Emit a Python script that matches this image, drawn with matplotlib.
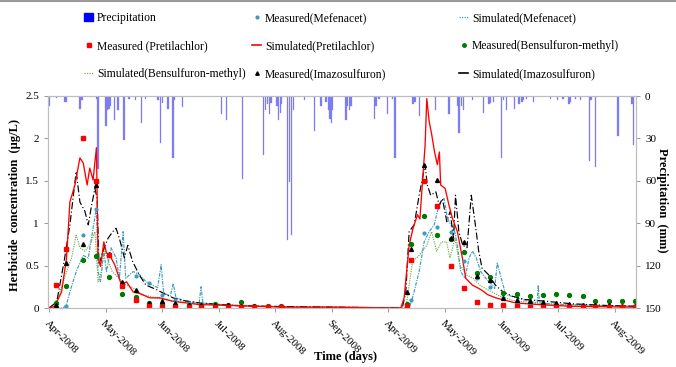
import matplotlib
matplotlib.use("Agg")
import matplotlib.pyplot as plt
from matplotlib.lines import Line2D
from matplotlib.patches import Patch
import numpy as np

plt.rcParams['font.family'] = ['Liberation Serif', 'DejaVu Serif']

# x axis = day index, Apr-2008 season then Apr-2009 season joined
month_pos = [0, 30.5, 61, 91.5, 122, 152.5, 183, 213.5, 244, 274.5, 305]
month_lab = ["Apr-2008", "May-2008", "Jun-2008", "Jul-2008", "Aug-2008", "Sep-2008",
             "Apr-2009", "May-2009", "Jun-2009", "Jul-2009", "Aug-2009"]

# precipitation (mm)
precip_day = [0.2, 4.1, 8.6, 9.5, 16.3, 17.1, 17.9, 25.7, 26.5, 30.7, 31.4, 32.4, 33.2,
              35.5, 37.3, 40.5, 43.2, 46.8, 49.9, 52.2, 58.8, 60.1, 61.2, 64.2, 66.9,
              67.8, 72.2, 93.2, 95.6, 103.7, 104.5, 115.7, 116.6, 118, 118.9, 119.8,
              123, 123.9, 124.8, 125.5, 128.7, 129.6, 130.6, 132, 137.7, 143.1, 146.7,
              149.4, 150.6, 151.5, 152.4, 152.9, 160.1, 161, 161.9, 162.8, 175.4, 176.3,
              178, 182.5, 185.2, 186.5, 196.3, 197.4, 199.6, 208.5, 215.7, 220.2, 221.1,
              222.5, 223.4, 228.2, 234.2, 237.2, 238.1, 239.5, 244, 244.9, 246.7, 251,
              253.4, 255.1, 256, 257.5, 261.4, 270.4, 274.3, 277.2, 280.3, 281.2, 283.9,
              286.6, 291.6, 292.3, 294.6, 306.8, 314.4, 315.2]
precip_mm = [7, 1.5, 4, 4, 9, 9, 3, 2, 52, 21, 10, 9, 7, 17, 10, 31, 2, 3, 19, 2, 3, 33,
             5, 9, 44, 3, 8, 13, 17, 1, 59, 42, 10, 6, 13, 5, 7, 17, 12, 6, 102, 61, 98,
             10, 3, 25, 7, 4, 10, 16, 19, 10, 17, 7, 10, 7, 16, 7, 2, 13, 2, 44, 6, 4,
             14, 10, 13, 7, 26, 7, 10, 3, 12, 6, 5, 4, 44, 3, 10, 9, 6, 4, 3, 2, 4, 2,
             3, 2, 6, 4, 2, 3, 46, 3, 50, 28, 6, 35]

# simulated concentrations (ug/L)
pre_day = [0, 3.2, 6.8, 9.5, 11.3, 14, 16.7, 18.5, 20.6, 22, 23.8, 25.6, 26.5, 27.8, 29.6,
           31, 32.8, 35.5, 39.1, 41.8, 45.4, 49, 54.3, 59.7, 66.9, 81.2, 99, 126, 153,
           189.7, 191.5, 194.2, 196.3, 198.7, 200, 201.4, 202.8, 203.7, 205, 206.4, 207.9,
           209.4, 210.5, 211.2, 213.6, 215.7, 217.5, 220.2, 222.9, 224.7, 228.3, 231.8,
           234, 236.3, 240.8, 244.4, 251.6, 264, 282, 316]
pre_sim = [0, 0.02, 0.19, 0.59, 1.25, 1.45, 1.77, 1.71, 1.45, 1.65, 1.51, 1.89, 0.59, 0.49,
           0.78, 0.65, 0.62, 0.51, 0.27, 0.31, 0.19, 0.17, 0.12, 0.12, 0.08, 0.04, 0.03,
           0.01, 0.01, 0.0, 0.12, 0.74, 0.94, 1.10, 1.05, 1.49, 1.92, 2.47, 2.20, 2.04,
           1.84, 1.69, 1.84, 1.45, 1.41, 1.21, 1.06, 0.90, 0.59, 0.35, 0.27, 0.23, 0.20,
           0.16, 0.12, 0.10, 0.06, 0.04, 0.02, 0.01]

ima_day = [0, 4.2, 8.2, 11.3, 14.7, 16.7, 19.4, 21.2, 23, 24.8, 26, 27, 29.1, 31.8, 34.4,
           36.2, 38, 40.7, 42.5, 45.1, 48.7, 52.3, 57.7, 63, 66.9, 72, 81, 99, 117, 153,
           190.5, 192.4, 194.2, 196.9, 199.6, 202.8, 204, 205.8, 208.6, 210.4, 212.1,
           214.5, 216.3, 218.1, 219.2, 221, 223.1, 225.4, 227.7, 229.9, 231.7, 233.5,
           237.1, 240.7, 244.2, 249.6, 256.8, 267.6, 281.9, 299.9, 316]
ima_sim = [0, 0.07, 0.55, 0.98, 1.61, 1.25, 1.14, 0.98, 1.21, 1.41, 1.29, 0.51, 0.67,
           0.82, 0.90, 0.94, 0.82, 0.59, 0.74, 0.55, 0.39, 0.27, 0.22, 0.16, 0.12, 0.09,
           0.06, 0.03, 0.02, 0.01, 0.0, 0.19, 0.90, 0.98, 1.33, 1.69, 1.45, 1.33, 1.37,
           1.21, 1.29, 1.02, 1.14, 0.82, 1.33, 0.90, 0.74, 0.71, 1.33, 0.98, 0.67, 0.47,
           0.39, 0.27, 0.20, 0.14, 0.10, 0.08, 0.05, 0.03, 0.02]

mef_day = [0, 7.7, 9.5, 11.3, 14.7, 18.5, 21.2, 23.8, 25.6, 26.5, 27.8, 29.6, 31, 33.5,
           36.2, 38, 40, 41.4, 45.4, 49, 52.3, 55.9, 58.6, 60.5, 61.8, 65.4, 67, 68.5,
           73.8, 81, 82, 83, 90, 108, 153, 194.2, 196, 199.6, 202.3, 205, 207.7, 209.4,
           211.2, 213, 214.8, 216.6, 218.4, 220.2, 222, 224.3, 226.5, 228.3, 230.4, 232.8,
           235.5, 239.1, 240.3, 241.7, 246.2, 255.2, 263.2, 263.8, 264.4, 276.8, 316]
mef_sim = [0, 0, 0.04, 0.19, 0.43, 0.62, 0.59, 0.94, 1.18, 0.43, 0.31, 0.67, 0.43, 0.71,
           0.59, 0.35, 0.90, 0.35, 0.43, 0.39, 0.31, 0.27, 0.24, 0.51, 0.18, 0.14, 0.29,
           0.12, 0.08, 0.06, 0.25, 0.06, 0.04, 0.02, 0.01, 0.0, 0.12, 0.43, 0.78, 0.90,
           0.98, 1.14, 1.25, 1.29, 1.06, 0.98, 0.94, 0.74, 0.43, 0.35, 0.59, 0.67, 0.59,
           0.43, 0.35, 0.27, 0.23, 0.53, 0.16, 0.10, 0.06, 0.27, 0.06, 0.04, 0.02]

ben_day = [0, 2.3, 5.9, 9.5, 12.2, 14.7, 16.7, 19.4, 22, 24.8, 26.5, 28.3, 29.6, 31.4,
           34.1, 37.7, 41.4, 45, 50.4, 57.5, 66.5, 81, 117, 153, 192.4, 194.2, 196, 199.6,
           203.7, 206.3, 209, 211.7, 214.4, 216.2, 218.9, 221.5, 225.1, 228.7, 232.3,
           237.7, 243.1, 250.2, 264.6, 316]
ben_sim = [0, 0, 0.19, 0.43, 0.59, 0.86, 0.71, 0.67, 0.74, 0.90, 0.31, 0.43, 0.71, 0.59,
           0.43, 0.35, 0.27, 0.24, 0.16, 0.12, 0.08, 0.05, 0.02, 0.01, 0.0, 0.27, 0.55,
           0.62, 0.74, 0.90, 0.67, 0.78, 0.78, 0.59, 0.82, 0.51, 0.39, 0.35, 0.27, 0.20,
           0.14, 0.09, 0.05, 0.02]

# measured concentrations (ug/L)
obs_day = [4, 9.3, 18.3, 25.4, 32.2, 39.4, 46.8, 53.7, 61, 68.2, 75.3, 82.1, 89.3, 96.4,
           103.7, 110.8, 118, 125.2, 192.9, 195.2, 202.3, 209.4, 216.6, 223.8, 230.6,
           237.8, 244.9, 252.1, 259.3, 266.3, 273.4, 280.6, 287.8, 294.6, 301.8, 308.9,
           315.7]
pre_obs = [0.27, 0.70, 2.0, 1.50, 0.62, 0.26, 0.09, 0.02, 0.01, 0.01, 0.01, 0.01, 0.01,
           0.01, 0.01, 0.01, 0.01, 0.01, 0.02, 0.57, 1.50, 1.20, 0.50, 0.23, 0.07, 0.04,
           0.03, 0.02, 0.01, 0.01, 0.01, 0.01, 0.01, 0.01, 0.01, 0.01, 0.01]
ben_obs = [0.06, 0.26, 0.57, 0.61, 0.36, 0.16, 0.13, 0.06, 0.05, 0.04, 0.03, 0.03, 0.05,
           0.03, 0.07, 0.02, 0.02, 0.02, 0.05, 0.75, 1.08, 0.86, 0.81, 0.66, 0.41, 0.37,
           0.18, 0.17, 0.14, 0.15, 0.17, 0.15, 0.14, 0.08, 0.08, 0.08, 0.08]
ima_obs = [0.04, 0.53, 0.75, 1.45, 0.64, 0.31, 0.21, 0.06, 0.08, 0.06, 0.04, 0.03, 0.03,
           0.03, 0.02, 0.02, 0.01, 0.01, 0.19, 0.69, 1.69, 1.51, 0.82, 0.78, 0.38, 0.33,
           0.12, 0.10, 0.08, 0.07, 0.06, 0.05, 0.04, 0.03, 0.03, 0.02, 0.02]
mef_obs = [0.0, 0.02, 0.86, 1.17, 0.63, 0.30, 0.38, 0.30, 0.15, 0.10, 0.06, 0.05, 0.04,
           0.03, 0.02, 0.02, 0.01, 0.01, 0.0, 0.10, 0.88, 0.96, 0.90, 0.55, 0.35, 0.25,
           0.12, 0.06, 0.05, 0.04, 0.04, 0.03, 0.03, 0.02, 0.02, 0.02, 0.02]

red = "#ff0000"
teal = "#3f9cbf"
lgreen = "#6fb04f"
dgreen = "#007a00"
black = "#000000"
pblue = "#7c7cf4"

fig = plt.figure(figsize=(6.76, 3.67), dpi=100)
ax = fig.add_axes([48/676, 1-308/367, (636-48)/676, (308-96)/367])
ax2 = ax.twinx()

ax2.bar(precip_day, precip_mm, width=0.7, color=pblue, edgecolor=pblue, linewidth=0.2)
ax2.set_ylim(150, 0)
ax2.set_yticks([0, 30, 60, 90, 120, 150])

ax.set_zorder(ax2.get_zorder() + 1)
ax.patch.set_visible(False)

ax.plot(mef_day, mef_sim, color=teal, lw=0.85, dashes=(3, 1, 1, 1))
ax.plot(ben_day, ben_sim, color=lgreen, lw=0.85, dashes=(1, 1))
ax.plot(ima_day, ima_sim, color=black, lw=0.85, dashes=(6, 2, 1, 2))
ax.plot(pre_day, pre_sim, color=red, lw=0.95)
ax.plot(obs_day, mef_obs, 'o', color=teal, ms=2)
ax.plot(obs_day, ben_obs, 'o', color=dgreen, ms=2.8)
ax.plot(obs_day, ima_obs, '^', color=black, ms=2.8)
ax.plot(obs_day, pre_obs, 's', color=red, ms=3)

ax.set_xlim(-0.5, 316.5)
ax.set_ylim(0, 2.5)
ax.set_yticks([0, 0.5, 1, 1.5, 2, 2.5])
ax.set_yticklabels(["0", "0.5", "1", "1.5", "2", "2.5"])
ax.set_xticks(month_pos)
ax.set_xticklabels(month_lab, rotation=-45, ha='left', va='top', rotation_mode='anchor')

for a in (ax, ax2):
    for s in a.spines.values():
        s.set_color("#bdbdbd")
        s.set_linewidth(0.8)
    a.tick_params(labelsize=8, length=3, color="#999999", width=0.7)
ax.tick_params(axis='x', pad=5)

fig.text(15/676, 1-205/367, "Herbicide  concentration  (\u03bcg/L)", fontsize=9,
         fontweight='bold', rotation=90, ha='center', va='center')
fig.text(662/676, 1-200/367, "Precipitation  (mm)", fontsize=9, fontweight='bold',
         rotation=-90, ha='center', va='center')
fig.text(345/676, 1-357/367, "Time (days)", fontsize=9, fontweight='bold',
         ha='center', va='center')

# legend, three columns like the spreadsheet original
h_prec = Patch(facecolor="#0000ff", edgecolor="#0000ff")
h_mef_o = Line2D([], [], ls='none', marker='o', color=teal, ms=2)
h_mef_s = Line2D([], [], color=teal, lw=0.9, dashes=(1, 1))
h_pre_o = Line2D([], [], ls='none', marker='s', color=red, ms=2.5)
h_pre_s = Line2D([], [], color=red, lw=1.2)
h_ben_o = Line2D([], [], ls='none', marker='o', color=dgreen, ms=2.5)
h_ben_s = Line2D([], [], color=lgreen, lw=0.9, dashes=(1, 1))
h_ima_o = Line2D([], [], ls='none', marker='^', color=black, ms=2.5)
h_ima_s = Line2D([], [], color=black, lw=1.2)

cols = [
    ([h_prec, h_pre_o, h_ben_s],
     ["Precipitation", "Measured (Pretilachlor)", "Simulated(Bensulfuron-methyl)"], 84),
    ([h_mef_o, h_pre_s, h_ima_o],
     ["Measured(Mefenacet)", "Simulated(Pretilachlor)", "Measured(Imazosulfuron)"], 252),
    ([h_mef_s, h_ben_o, h_ima_s],
     ["Simulated(Mefenacet)", "Measured(Bensulfuron-methyl)", "Simulated(Imazosulfuron)"], 459),
]
for hs, ls, xpx in cols:
    fig.legend(hs, ls, loc='upper left', bbox_to_anchor=(xpx/676, 1-12/367), frameon=False,
               fontsize=8.4, handlelength=0.8, handleheight=0.7, handletextpad=0.3,
               labelspacing=1.38, borderpad=0, borderaxespad=0)

fig.add_artist(Line2D([0, 1], [0.996, 0.996], color="#9a9a9a", lw=1.5,
                      transform=fig.transFigure))

fig.savefig("out.png", dpi=100)
